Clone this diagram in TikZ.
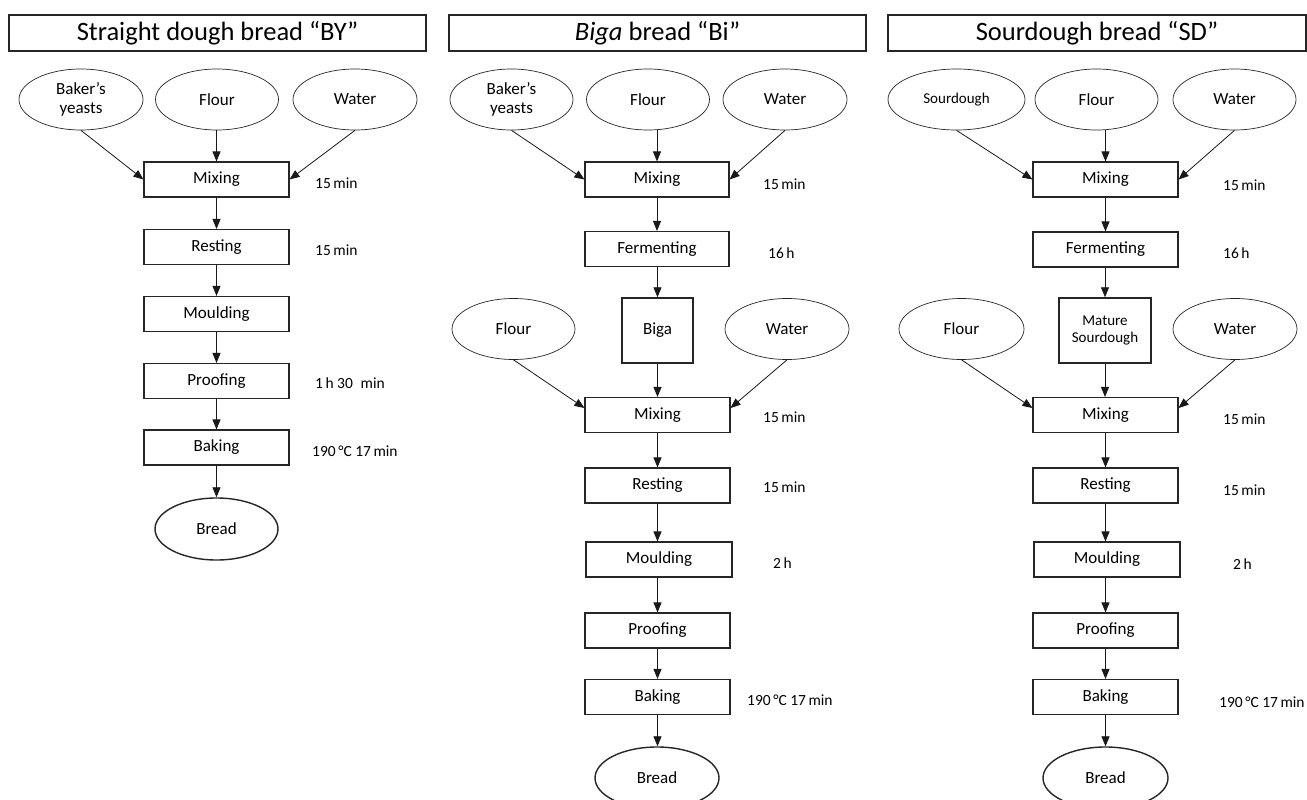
\documentclass[tikz,border=0pt]{standalone}
\usepackage{fontspec}
\setmainfont{Carlito}
\usetikzlibrary{shapes.geometric,arrows.meta}
\newcommand\myfs[1]{\fontsize{#1}{#1}\selectfont}
\newcommand\tsp{\kern2.5pt}
\tikzset{
  box/.style={draw=black!85, line width=1.1pt, minimum width=145pt, minimum height=35pt, inner sep=0pt, font=\myfs{17}},
  tallbox/.style={box, line width=1.4pt, minimum height=65pt},
  ell/.style={draw=black!85, ellipse, line width=0.7pt, minimum width=123pt, minimum height=61pt, inner sep=0pt, font=\myfs{17}, align=center},
  endell/.style={ell, line width=1.4pt, minimum height=62pt},
  ttl/.style={draw=black!85, line width=1.3pt, minimum width=417pt, minimum height=36pt, inner sep=0pt, font=\myfs{26.5}},
  lab/.style={anchor=west, inner sep=0pt, font=\myfs{15.5}},
  arr/.style={-{Triangle[length=10pt,width=8pt]}, line width=0.8pt, draw=black!90},
}
\begin{document}
\begin{tikzpicture}[x=1pt,y=-1pt]
\useasboundingbox (0,0) rectangle (1307,800);
\fill[white] (0,0) rectangle (1307,800);

% ---------- Column 1 ----------
\node[ttl] (t1) at (217.5,33) {Straight dough bread “BY”};
\node[ell, minimum width=124pt] (y1) at (81,99.5) {Baker’s\\[2pt]yeasts};
\node[ell] (f1) at (217,99.5) {Flour};
\node[ell, minimum width=124pt] (w1) at (355,99.5) {Water};
\node[box] (m1) at (216.5,179.5) {Mixing};
\node[box] (r1) at (216.5,247) {Resting};
\node[box] (mo1) at (216.5,314) {Moulding};
\node[box] (p1) at (216.5,381) {Proofing};
\node[box] (b1) at (216.5,447.5) {Baking};
\node[endell] (br1) at (216.5,529) {Bread};
\node[lab] (l11) at (315,183) {15\tsp min};
\node[lab] (l12) at (315,250) {15\tsp min};
\node[lab] (l13) at (315,383) {1\tsp h 30\enspace min};
\node[lab] (l14) at (312,451) {190\tsp °C 17\tsp min};
\draw[arr] (y1.south) -- (m1.west);
\draw[arr] (f1.south -| m1.north) -- (m1.north);
\draw[arr] (w1.south) -- (m1.east);
\draw[arr] (m1) -- (r1);
\draw[arr] (r1) -- (mo1);
\draw[arr] (mo1) -- (p1);
\draw[arr] (p1) -- (b1);
\draw[arr] (b1.south) -- (br1.north);

% ---------- Column 2 ----------
\node[ttl] (t2) at (657.5,33) {\textit{Biga} bread “Bi”};
\node[ell] (y2) at (511.5,99.5) {Baker’s\\[2pt]yeasts};
\node[ell] (f2) at (648,99.5) {Flour};
\node[ell, minimum width=124pt] (w2) at (785,99.5) {Water};
\node[box, minimum width=144pt] (m2) at (657,179.5) {Mixing};
\node[box, minimum width=144pt] (fe2) at (657,249) {Fermenting};
\node[tallbox, minimum width=71pt] (bi2) at (657.5,330.5) {Biga};
\node[ell] (fl2) at (513.5,329) {Flour};
\node[ell, minimum width=124pt] (wa2) at (787,329) {Water};
\node[box] (mm2) at (657.5,415) {Mixing};
\node[box] (r2) at (657.5,485.5) {Resting};
\node[box, minimum width=146pt] (mo2) at (659,559.5) {Moulding};
\node[box] (p2) at (657.5,630.5) {Proofing};
\node[box] (b2) at (657.5,697) {Baking};
\node[endell, minimum width=124pt] (br2) at (657,778) {Bread};
\node[lab] (l21) at (763,184) {15\tsp min};
\node[lab] (l22) at (768,253) {16\tsp h};
\node[lab] (l23) at (763,417) {15\tsp min};
\node[lab] (l24) at (763,487) {15\tsp min};
\node[lab] (l25) at (773,563) {2\tsp h};
\node[lab] (l26) at (747,700) {190\tsp °C 17\tsp min};
\draw[arr] (y2.south) -- (m2.west);
\draw[arr] (f2.south -| m2.north) -- (m2.north);
\draw[arr] (w2.south) -- (m2.east);
\draw[arr] (m2) -- (fe2);
\draw[arr] (fe2.south -| bi2.north) -- (bi2.north);
\draw[arr] (bi2.south) -- (bi2.south |- mm2.north);
\draw[arr] (fl2.south) -- ([yshift=7pt]mm2.west);
\draw[arr] (wa2.south) -- ([yshift=7pt]mm2.east);
\draw[arr] (mm2) -- (r2);
\draw[arr] (r2.south) -- (r2.south |- mo2.north);
\draw[arr] (mo2.south -| p2.north) -- (p2.north);
\draw[arr] (p2) -- (b2);
\draw[arr] (b2.south) -- (b2.south |- br2.north);

% ---------- Column 3 ----------
\node[ttl, minimum width=418pt] (t3) at (1097,33) {Sourdough bread “SD”};
\node[ell, minimum width=137pt, font=\myfs{15}] (s3) at (956.5,99.5) {Sourdough};
\node[ell] (f3) at (1096.5,99.5) {Flour};
\node[ell] (w3) at (1234.5,99.5) {Water};
\node[box] (m3) at (1105.5,179.5) {Mixing};
\node[box] (fe3) at (1105.5,249.5) {Fermenting};
\node[tallbox, minimum width=92pt, font=\myfs{15}, align=center] (ms3) at (1105,330.5) {Mature\\[2pt]Sourdough};
\node[ell, minimum width=125pt] (fl3) at (961.5,329) {Flour};
\node[ell, minimum width=124pt] (wa3) at (1235,329) {Water};
\node[box] (mm3) at (1105.5,415) {Mixing};
\node[box] (r3) at (1105.5,485.5) {Resting};
\node[box, minimum width=146pt] (mo3) at (1107,559.5) {Moulding};
\node[box] (p3) at (1105.5,630.5) {Proofing};
\node[box] (b3) at (1105.5,697) {Baking};
\node[endell, minimum width=125pt] (br3) at (1105.5,778) {Bread};
\node[lab] (l31) at (1223,185) {15\tsp min};
\node[lab] (l32) at (1223,253) {16\tsp h};
\node[lab] (l33) at (1223,419) {15\tsp min};
\node[lab] (l34) at (1223,490) {15\tsp min};
\node[lab] (l35) at (1233,564) {2\tsp h};
\node[lab] (l36) at (1219,702) {190\tsp °C 17\tsp min};
\draw[arr] (s3.south) -- (m3.west);
\draw[arr] (f3.south -| m3.north) -- (m3.north);
\draw[arr] (w3.south) -- (m3.east);
\draw[arr] (m3) -- (fe3);
\draw[arr] (fe3.south -| ms3.north) -- (ms3.north);
\draw[arr] (ms3.south) -- (ms3.south |- mm3.north);
\draw[arr] (fl3.south) -- ([yshift=7pt]mm3.west);
\draw[arr] (wa3.south) -- ([yshift=7pt]mm3.east);
\draw[arr] (mm3) -- (r3);
\draw[arr] (r3.south) -- (r3.south |- mo3.north);
\draw[arr] (mo3.south -| p3.north) -- (p3.north);
\draw[arr] (p3) -- (b3);
\draw[arr] (b3) -- (br3);
\end{tikzpicture}
\end{document}
